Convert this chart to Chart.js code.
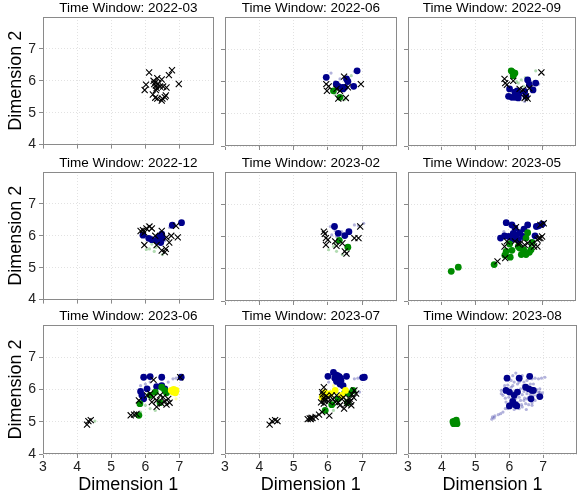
<!DOCTYPE html>
<html>
<head>
<meta charset="utf-8">
<script src="https://cdn.jsdelivr.net/npm/chart.js@4.4.1/dist/chart.umd.min.js"></script>
<style>
  html, body { margin: 0; padding: 0; background: #fff; }
  body { width: 581px; height: 497px; position: relative; overflow: hidden; }
  .panel { position: absolute; }
</style>
</head>
<body>
<script>
// facet labels and axis ticks
const windows = ['2022-03', '2022-06', '2022-09', '2022-12', '2023-02', '2023-05', '2023-06', '2023-07', '2023-08'];
const xTicks = [3, 4, 5, 6, 7];
const yTicks = [4, 5, 6, 7];

// one list of [x, y] per time window
const crossPts = [
  [[6.11,6.26],[6.78,6.33],[6.69,6.18],[6.98,5.90],[6.02,5.88],[5.98,5.71],[6.24,6.00],[6.29,5.95],[6.35,6.08],[6.48,6.04],[6.31,5.85],[6.33,5.77],[6.38,5.90],[6.43,5.82],[6.52,5.82],[6.62,5.79],[6.22,5.57],[6.29,5.47],[6.35,5.44],[6.48,5.38],[6.50,5.44],[6.57,5.49],[6.60,5.54],[6.26,5.90],[6.31,5.71]],
  [[5.95,5.92],[6.02,5.85],[5.97,5.71],[6.47,6.15],[6.58,5.82],[6.35,5.71],[6.30,5.47],[6.52,5.49],[6.96,5.92],[6.25,5.77]],
  [[5.88,6.08],[5.90,5.95],[5.95,5.90],[6.14,6.02],[6.33,5.77],[6.43,5.74],[6.52,5.54],[6.57,5.47],[6.62,5.79],[6.98,6.28],[6.48,5.49]],
  [[5.86,6.15],[5.93,6.18],[6.03,6.23],[6.12,6.29],[6.19,6.23],[5.97,6.10],[6.48,6.15],[6.62,5.95],[6.76,6.00],[6.95,5.95],[6.90,6.31],[6.33,5.71],[6.48,5.54],[6.57,5.49],[6.60,5.59],[5.97,5.71],[6.70,5.79],[6.29,6.00]],
  [[5.88,6.15],[5.91,6.08],[5.94,5.95],[6.00,5.90],[5.94,5.74],[6.25,5.71],[6.42,5.79],[6.49,5.54],[6.54,5.47],[6.77,5.95],[6.89,5.95],[6.94,6.31],[6.21,5.85]],
  [[5.67,5.23],[5.90,5.33],[5.88,5.69],[5.95,5.85],[6.22,6.29],[6.29,5.77],[6.35,5.79],[6.48,5.74],[6.57,5.79],[6.70,5.77],[6.76,5.69],[6.86,5.69],[6.90,5.95],[6.95,5.95],[7.00,6.00],[7.05,6.41],[6.95,6.36],[6.86,5.90],[6.19,5.85]],
  [[4.29,4.91],[4.33,5.02],[4.40,5.05],[5.57,5.20],[5.67,5.22],[5.74,5.24],[6.24,6.30],[7.02,6.38],[5.81,5.66],[6.14,5.87],[6.24,5.76],[6.33,5.66],[6.43,5.82],[6.48,5.56],[6.57,5.63],[6.62,5.53],[6.33,5.46],[6.67,5.71],[6.52,5.76],[6.19,5.61],[6.05,5.82],[6.71,5.59]],
  [[4.30,4.91],[4.37,5.02],[4.46,5.05],[4.53,5.02],[5.47,5.10],[5.55,5.12],[5.64,5.15],[5.74,5.22],[5.83,5.30],[5.88,6.07],[5.83,5.92],[5.88,5.74],[5.88,5.56],[6.02,5.63],[6.11,5.82],[6.25,5.82],[6.35,5.51],[6.40,5.71],[6.54,5.56],[6.60,5.59],[6.68,5.51],[6.77,5.97],[6.82,5.87],[6.63,5.71],[6.21,5.61],[6.04,5.19],[5.41,5.08],[6.47,5.41],[5.50,5.08],[5.52,5.12],[5.95,5.80],[5.90,5.65],[6.55,5.65],[6.65,5.62],[6.45,5.75],
   [5.85,5.85],[5.92,5.70],[6.00,5.75],[5.80,5.60],[6.15,5.70],[6.30,5.60],[6.70,5.85],[6.75,5.75]],
  []
];
const navyPts = [
  [],
  [[5.95,6.13],[6.85,6.33],[6.24,5.92],[6.30,5.85],[6.42,5.82],[6.49,5.82],[6.54,6.08],[6.58,6.00],[6.75,5.85],[6.44,5.77]],
  [[6.03,5.77],[6.19,5.67],[6.26,5.71],[6.00,5.54],[6.10,5.51],[6.19,5.51],[6.29,5.49],[6.31,5.61],[6.57,6.05],[6.62,5.90],[6.73,5.74],[6.81,5.95],[6.48,5.69],[6.52,5.54]],
  [[6.79,6.33],[7.06,6.41],[5.93,6.02],[6.10,5.92],[6.19,5.88],[6.33,5.85],[6.43,6.00],[6.48,6.05],[6.50,5.92],[6.45,5.79],[6.38,5.95]],
  [[6.19,6.31],[6.30,6.10],[6.49,6.03],[6.61,6.15]],
  [[5.93,6.43],[6.10,6.36],[6.19,6.26],[6.24,6.05],[6.33,6.12],[6.46,6.23],[6.57,6.36],[5.76,5.95],[5.88,6.02],[6.00,6.00],[6.12,5.92],[6.29,5.90],[6.83,6.31],[6.90,6.33],[7.00,6.38],[6.79,6.02],[6.43,6.00],[6.14,6.10]],
  [[5.95,6.38],[6.14,6.40],[6.48,6.38],[7.05,6.38],[5.86,5.94],[5.90,5.82],[5.95,5.71],[6.48,6.12],[6.57,6.02],[6.33,6.09],[6.05,6.02]],
  [[6.00,6.41],[6.16,6.53],[6.23,6.45],[6.30,6.33],[6.38,6.28],[6.44,6.12],[6.54,6.41],[7.01,6.37],[7.06,6.38],[6.35,6.17],[6.26,6.38],[6.33,6.40],[6.20,6.35],[6.28,6.43],[6.36,6.35],[6.25,6.25]],
  [[5.93,6.35],[6.29,6.35],[6.60,6.41],[5.90,5.97],[6.00,5.92],[6.24,5.92],[6.14,5.82],[6.48,6.07],[6.57,6.02],[6.67,5.97],[6.71,5.97],[6.64,5.71],[6.90,5.78],[6.10,5.63],[6.17,5.53],[6.22,5.49],[6.00,5.49]]
];
const greenPts = [
  [],
  [[6.16,5.71],[6.35,5.51]],
  [[6.08,6.33],[6.12,6.29],[6.16,6.23],[6.14,6.18],[6.19,6.26]],
  [],
  [[6.33,5.88],[6.58,5.67]],
  [[4.29,4.92],[4.50,5.05],[5.57,5.13],[5.89,5.42],[5.93,5.54],[6.05,5.36],[6.03,5.77],[6.10,5.57],[6.29,5.69],[6.33,5.64],[6.45,5.59],[6.43,5.47],[6.52,5.44],[6.62,5.51],[6.67,5.59],[6.57,6.12],[6.52,5.95],[6.38,5.44],[6.70,5.82]],
  [[5.84,5.56],[5.81,5.20],[6.14,5.82],[6.48,6.07],[6.57,5.97],[6.62,5.90],[6.29,5.92],[6.43,5.59]],
  [[5.92,5.35],[6.11,5.53],[6.49,5.90],[6.63,5.87],[6.73,5.97],[6.30,5.71],[6.57,5.59]],
  [[4.33,5.00],[4.38,5.02],[4.40,4.98],[4.43,5.05],[4.35,4.94],[4.45,4.94]]
];
const yellowPts = [
  [], [], [], [], [], [],
  [[6.76,5.97],[6.83,6.00],[6.90,5.97],[6.88,5.90],[6.81,5.92]],
  [[5.91,5.90],[6.07,5.87],[5.83,5.76],[6.21,5.97],[6.40,5.82],[6.51,5.97]],
  []
];
// faint trail points
const navyFaint = [
  [],
  [[6.09,6.26],[6.35,6.08],[6.77,6.31],[6.21,6.00]],
  [[6.90,5.92],[6.70,5.74],[6.48,5.38],[6.67,6.00]],
  [[6.71,6.26],[6.57,5.85]],
  [[6.07,6.31],[6.21,6.18],[6.40,6.15],[6.77,6.36],[6.89,6.33],[7.04,6.41],[6.25,6.00],[6.11,6.05]],
  [[5.86,6.15],[6.29,5.85]],
  [[5.86,6.12],[6.00,6.17],[6.14,6.23],[6.81,6.33],[6.90,6.35],[6.67,6.23]],
  [[6.77,6.33],[6.87,6.35],[6.92,5.92],[6.02,6.23]],
  [[5.48,5.08],[5.55,5.12],[5.57,5.18],[5.67,5.22],[5.74,5.25],[5.81,5.30],[5.88,5.41],[5.50,5.15],
   [6.19,6.51],[6.10,6.43],[6.05,6.28],[6.14,6.23],[6.24,6.17],[6.33,6.28],[6.43,6.23],[6.52,6.28],[6.67,6.33],[6.76,6.35],[6.86,6.33],[6.95,6.35],[7.05,6.38],
   [5.86,6.12],[5.95,6.14],[5.76,5.97],[5.81,5.82],[5.88,5.73],[5.98,5.76],[6.05,5.69],[6.19,5.73],[6.29,5.76],[6.38,5.84],[6.33,5.66],[6.43,5.66],[6.52,5.71],
   [6.48,5.56],[6.57,5.53],[6.67,5.59],[6.76,5.66],[6.81,5.82],[6.90,5.92],[6.98,5.90],[6.38,5.46],[6.29,5.41],[6.14,5.38],[5.95,5.41],[6.19,5.97],[6.33,6.02],
   [6.43,5.94],[6.52,5.87],[6.62,5.84],[6.71,5.82],[6.81,6.00],[6.05,6.07],[6.24,6.38],[6.38,6.43],[6.00,5.56],[5.90,5.61],[6.62,6.17],[6.71,6.17],[6.57,5.76],[6.12,5.92],
   [5.76,5.87],[5.86,5.92],[6.10,6.12],[6.29,6.23],[6.41,6.12],[6.64,6.07],[6.86,5.92],[6.90,6.02],[6.24,5.59],[6.36,5.53],[6.67,5.51],[6.45,5.73],[6.19,5.84],[6.05,5.59],[6.50,5.38],[6.76,5.92]]
];
const greenFaint = [
  [],
  [[6.68,6.18],[6.49,5.44],[6.21,5.59]],
  [[6.29,5.95],[6.38,6.05],[6.50,6.12],[6.81,6.33],[6.24,6.00],[6.45,5.85]],
  [[6.19,5.74],[6.12,5.59],[6.03,5.57],[6.26,5.51],[6.50,5.41],[6.31,5.64]],
  [[6.02,5.59],[6.16,5.69],[6.25,5.54],[6.42,5.44],[6.21,5.77]],
  [],
  [[6.00,5.51],[6.14,5.41],[5.86,5.30],[4.52,5.02],[6.29,5.35]],
  [[6.16,5.35]],
  [[4.30,4.95],[4.47,5.00]]
];
const yellowFaint = [
  [], [], [], [], [], [],
  [[6.90,5.71]],
  [[6.16,6.12],[6.58,5.71]],
  []
];

// panel frame in pixels (chart area of each facet)
const colLeft = [43, 225, 408];
const colW = [175, 176, 172];
const rowTop = [16, 171, 324];
const areaH = 130;
const titleH = 16;

Chart.defaults.font.family = '"Liberation Sans", Arial, sans-serif';
Chart.defaults.color = '#222';

const frame = {
  id: 'frame',
  afterDraw(chart) {
    const a = chart.chartArea;
    const ctx = chart.ctx;
    ctx.save();
    ctx.strokeStyle = '#8a8a8a';
    ctx.lineWidth = 1;
    ctx.strokeRect(Math.round(a.left) + 0.5, Math.round(a.top) + 0.5,
      Math.round(a.right - a.left) - 1, Math.round(a.bottom - a.top) - 1);
    ctx.restore();
  }
};

const toXY = pts => pts.map(p => ({ x: p[0], y: p[1] }));

function dot(pts, color, r) {
  return {
    data: toXY(pts),
    pointStyle: 'circle',
    pointRadius: r,
    pointBackgroundColor: color,
    pointBorderColor: color,
    pointBorderWidth: 0
  };
}

function makePanel(i) {
  const r = Math.floor(i / 3), c = i % 3;
  const yW = c === 0 ? 43 : 6;
  const xH = r === 2 ? 43 : 10;
  const div = document.createElement('div');
  div.className = 'panel';
  div.style.left = (colLeft[c] - yW) + 'px';
  div.style.top = (rowTop[r] - titleH) + 'px';
  div.style.width = (yW + colW[c] + 1) + 'px';
  div.style.height = (titleH + areaH + xH) + 'px';
  const canvas = document.createElement('canvas');
  div.appendChild(canvas);
  document.body.appendChild(div);

  const gridOpts = {
    color: '#e2e2e2',
    tickColor: '#8a8a8a',
    tickLength: 4,
    tickBorderDash: []
  };

  new Chart(canvas, {
    type: 'scatter',
    data: {
      datasets: [
        { data: toXY(crossPts[i]), pointStyle: 'crossRot', pointRadius: 4.3,
          pointBorderColor: '#000', pointBackgroundColor: '#000', pointBorderWidth: 1.1 },
        dot(yellowPts[i], '#ffff00', 3.4),
        dot(greenPts[i], '#008b00', 3.4),
        dot(navyPts[i], '#00008b', 3.4),
        dot(yellowFaint[i], 'rgba(255,255,0,0.35)', 1.6),
        dot(greenFaint[i], 'rgba(0,139,0,0.3)', 1.6),
        dot(navyFaint[i], 'rgba(0,0,139,0.3)', 1.6)
      ]
    },
    options: {
      responsive: true,
      maintainAspectRatio: false,
      animation: false,
      events: [],
      layout: { padding: { left: 0, right: 1, top: 0, bottom: 0 } },
      plugins: {
        legend: { display: false },
        tooltip: { enabled: false },
        title: {
          display: true,
          text: 'Time Window: ' + windows[i],
          fullSize: false,
          color: '#000',
          font: { size: 13.5, weight: 'normal', lineHeight: (titleH + 1) / 13.5 },
          padding: { top: 0, bottom: 0 }
        }
      },
      scales: {
        x: {
          type: 'linear',
          min: 3, max: 8,
          afterBuildTicks: s => { s.ticks = xTicks.map(v => ({ value: v })); },
          afterFit: s => { s.height = xH; },
          grid: gridOpts,
          border: { display: false, dash: [1, 2] },
          ticks: { display: r === 2, font: { size: 14 }, color: '#222', padding: 1 },
          title: { display: r === 2, text: 'Dimension 1', color: '#000',
            font: { size: 18 }, padding: { top: 0, bottom: 1 } }
        },
        y: {
          type: 'linear',
          min: 4, max: 8,
          afterBuildTicks: s => { s.ticks = yTicks.map(v => ({ value: v })); },
          afterFit: s => { s.width = yW; },
          grid: gridOpts,
          border: { display: false, dash: [1, 2] },
          ticks: { display: c === 0, font: { size: 14 }, color: '#222', padding: 3 },
          title: { display: c === 0, text: 'Dimension 2', color: '#000',
            font: { size: 18 }, padding: { top: 5, bottom: 0 } }
        }
      }
    },
    plugins: [frame]
  });
}

for (let i = 0; i < windows.length; i++) makePanel(i);
</script>
</body>
</html>
